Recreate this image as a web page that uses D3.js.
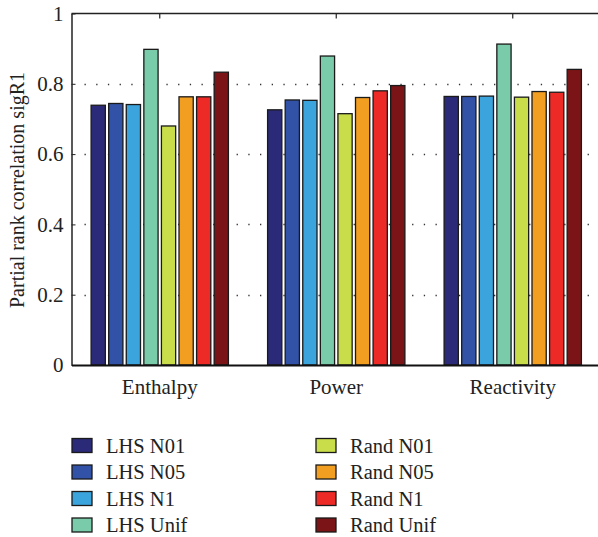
<!DOCTYPE html>
<html>
<head>
<meta charset="utf-8">
<script src="https://d3js.org/d3.v7.min.js"></script>
<style>
  body { margin: 0; background: #fff; }
</style>
</head>
<body>
<svg id="chart" width="598" height="537"></svg>
<script>
var categories = ["Enthalpy", "Power", "Reactivity"];
var seriesNames = ["LHS N01", "LHS N05", "LHS N1", "LHS Unif",
                   "Rand N01", "Rand N05", "Rand N1", "Rand Unif"];
var seriesColors = ["#2a2a78", "#3152a6", "#3ca4dc", "#7acbaa",
                    "#c9dc4a", "#f29e20", "#ee2a27", "#7a1416"];
// one array per category, in series order
var enthalpyValues   = [0.739, 0.744, 0.741, 0.898, 0.680, 0.763, 0.763, 0.833];
var powerValues      = [0.726, 0.754, 0.753, 0.879, 0.715, 0.761, 0.780, 0.795];
var reactivityValues = [0.764, 0.764, 0.765, 0.913, 0.762, 0.778, 0.776, 0.841];
var yTicks = [0, 0.2, 0.4, 0.6, 0.8, 1];
var yLabel = "Partial rank correlation sigR1";

var FONT = '"Liberation Serif", "Times New Roman", serif';

var values = [enthalpyValues, powerValues, reactivityValues];
var data = [];
categories.forEach(function (c, i) {
    seriesNames.forEach(function (s, j) {
        data.push({cat: c, series: s, value: values[i][j]});
    });
});

var svg = d3.select("#chart");
var margin = {top: 13.5, left: 71.5, bottom: 365},
    plotRight = 601;

var x0 = d3.scaleBand()
    .domain(categories)
    .range([margin.left, plotRight]);

var x1 = d3.scaleBand()
    .domain(seriesNames)
    .range([0, x0.bandwidth()])
    .paddingInner(0.19)
    .paddingOuter(1.115);

var y = d3.scaleLinear()
    .domain([0, 1])
    .range([margin.bottom, margin.top]);

var color = d3.scaleOrdinal().domain(seriesNames).range(seriesColors);

// dotted grid
svg.append("g")
    .selectAll("line")
    .data(yTicks.filter(d => d > 0 && d < 1))
    .join("line")
    .attr("x1", margin.left + 13)
    .attr("x2", plotRight)
    .attr("y1", d => Math.round(y(d)) + 0.5)
    .attr("y2", d => Math.round(y(d)) + 0.5)
    .attr("stroke", "#333")
    .attr("stroke-width", 1.3)
    .attr("stroke-dasharray", "1.3,10.4");

// bars
svg.append("g")
    .selectAll("rect")
    .data(data)
    .join("rect")
    .attr("x", d => x0(d.cat) + x1(d.series))
    .attr("y", d => y(d.value))
    .attr("width", x1.bandwidth())
    .attr("height", d => y(0) - y(d.value))
    .attr("fill", d => color(d.series))
    .attr("stroke", "#1a1a1a")
    .attr("stroke-width", 1.3);

// frame: top line, left axis, bottom axis
svg.append("line")
    .attr("x1", margin.left).attr("x2", plotRight)
    .attr("y1", margin.top).attr("y2", margin.top)
    .attr("stroke", "#222").attr("stroke-width", 1.5);

var yAxis = svg.append("g")
    .attr("transform", `translate(${margin.left},0)`)
    .call(d3.axisRight(y)
        .tickValues(yTicks)
        .tickFormat(d => d === 0 || d === 1 ? d3.format("d")(d) : d3.format(".1f")(d))
        .tickSize(4)
        .tickSizeOuter(0));
yAxis.attr("font-family", null).attr("font-size", null);
yAxis.select(".domain").attr("stroke", "#222").attr("stroke-width", 1.5);
yAxis.selectAll(".tick line").attr("stroke", "#222");
yAxis.selectAll(".tick text")
    .attr("x", -8)
    .attr("text-anchor", "end")
    .attr("fill", "#222")
    .style("font-size", "21px")
    .style("font-family", FONT);

var xTop = svg.append("g")
    .attr("transform", `translate(0,${margin.top})`)
    .call(d3.axisBottom(x0).tickSize(5).tickSizeOuter(0).tickFormat(""));
xTop.select(".domain").remove();
xTop.selectAll(".tick line").attr("stroke", "#222").attr("stroke-width", 1.2);

var xAxis = svg.append("g")
    .attr("transform", `translate(0,${margin.bottom})`)
    .call(d3.axisBottom(x0).tickSize(0).tickSizeOuter(0).tickPadding(10));
xAxis.attr("font-family", null).attr("font-size", null);
xAxis.select(".domain").attr("stroke", "#111").attr("stroke-width", 2);
xAxis.selectAll(".tick text")
    .attr("dy", "0.9em")
    .attr("fill", "#222")
    .style("font-size", "21px")
    .style("font-family", FONT);

// y label
svg.append("text")
    .attr("transform", "translate(24,190) rotate(-90)")
    .attr("text-anchor", "middle")
    .attr("fill", "#222")
    .style("font-size", "20px")
    .style("font-family", FONT)
    .text(yLabel);

// legend
var legend = svg.append("g");
var legendItems = legend.selectAll("g")
    .data(seriesNames)
    .join("g")
    .attr("transform", (d, i) => `translate(${i < 4 ? 72 : 316},${438.5 + (i % 4) * 26.5})`);
legendItems.append("rect")
    .attr("width", 20)
    .attr("height", 14)
    .attr("fill", d => color(d))
    .attr("stroke", "#1a1a1a")
    .attr("stroke-width", 1.3);
legendItems.append("text")
    .attr("x", 34)
    .attr("y", 14)
    .attr("fill", "#222")
    .style("font-size", "20.5px")
    .style("font-family", FONT)
    .text(d => d);
</script>
</body>
</html>
